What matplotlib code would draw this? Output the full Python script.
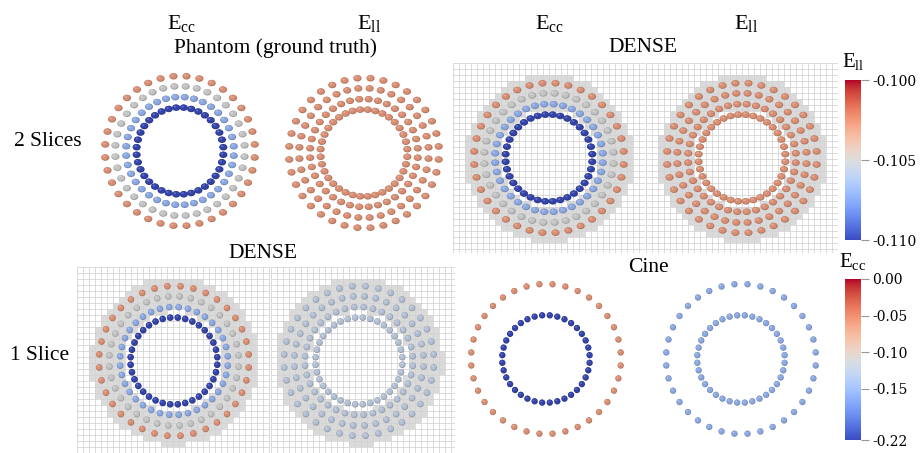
import numpy as np
import matplotlib
import matplotlib.pyplot as plt
from matplotlib.colors import Normalize
from matplotlib.patches import Ellipse
from matplotlib import cm

plt.rcParams['mathtext.fontset'] = 'custom'
plt.rcParams['mathtext.rm'] = 'Liberation Serif'
plt.rcParams['mathtext.it'] = 'Liberation Serif:italic'

W, H = 921, 453
CELL = 6.0  # pixels per DENSE voxel

# myocardial points: 36 angular positions on 4 radial layers (voxel units)
n_points = 36
ring_radius = [7.25, 9.0, 10.8, 12.5]
cine_radius = [7.3, 12.5]
mask_radius = (8.3, 14.0)

# strain per layer, endo -> epi
ecc_phantom = [-0.22, -0.154, -0.11, -0.06]
ell_phantom = [-0.1027, -0.1027, -0.1027, -0.1027]
ecc_dense2 = [-0.22, -0.154, -0.11, -0.06]
ell_dense2 = [-0.1027, -0.1027, -0.1027, -0.1027]
ecc_dense1 = [-0.22, -0.154, -0.11, -0.06]
ell_dense1 = [-0.1057, -0.1057, -0.1057, -0.1057]
ecc_cine = [-0.22, -0.06]
ell_cine = [-0.107, -0.107]

ecc_range = (-0.22, 0.00)
ell_range = (-0.110, -0.100)
ecc_ticks = [0.00, -0.05, -0.10, -0.15, -0.22]
ell_ticks = [-0.100, -0.105, -0.110]

cmap = matplotlib.colormaps['coolwarm']
ecc_norm = Normalize(*ecc_range)
ell_norm = Normalize(*ell_range)

fig = plt.figure(figsize=(W / 100, H / 100), dpi=100)
fig.patch.set_facecolor('white')


def panel(box, center, zorder=1):
    x0, x1, y0, y1 = box
    cx, cy = center
    ax = fig.add_axes([x0 / W, 1 - y1 / H, (x1 - x0) / W, (y1 - y0) / H])
    ax.set_xlim((x0 - cx) / CELL, (x1 - cx) / CELL)
    ax.set_ylim((cy - y1) / CELL, (cy - y0) / CELL)
    ax.set_facecolor('none')
    ax.set_axis_off()
    ax.set_zorder(zorder)
    return ax


def dense_background(ax):
    xa, xb = ax.get_xlim()
    ya, yb = ax.get_ylim()
    xe = np.arange(xa, xb + 1e-6, 1.0)
    ye = np.arange(yb, ya - 1e-6, -1.0)[::-1]
    xc = 0.5 * (xe[:-1] + xe[1:])
    yc = 0.5 * (ye[:-1] + ye[1:])
    X, Y = np.meshgrid(xc, yc)
    r = np.hypot(X, Y)
    inside = (r >= mask_radius[0]) & (r <= mask_radius[1])
    ax.add_patch(plt.Rectangle((xa, ya), xb - xa, yb - ya, color='white', zorder=0))
    ax.pcolormesh(xe, ye, np.ma.masked_where(~inside, np.ones_like(r)),
                  cmap=matplotlib.colors.ListedColormap(['#dadada']), zorder=1)
    for x in xe:
        ax.plot([x, x], [ya, yb], color='#d2d2d2', lw=0.55, zorder=2)
    for y in ye:
        ax.plot([xa, xb], [y, y], color='#d2d2d2', lw=0.55, zorder=2)


def sphere(ax, x, y, w, h, rgb):
    rgb = np.asarray(rgb[:3])
    ax.add_patch(Ellipse((x, y), w, h, color=rgb * 0.72, lw=0, zorder=3))
    ax.add_patch(Ellipse((x - 0.05 * w, y + 0.06 * h), w * 0.84, h * 0.84,
                         color=rgb * 0.88, lw=0, zorder=4))
    ax.add_patch(Ellipse((x - 0.15 * w, y + 0.17 * h), w * 0.3, h * 0.3,
                         color=rgb * 0.7 + 0.22, lw=0, zorder=5))


def rings(ax, radii, values, norm, w, h):
    theta = np.linspace(0, 2 * np.pi, n_points, endpoint=False) + np.pi / 36
    for r, v in zip(radii, values):
        rgb = cmap(norm(v))
        for t in theta:
            sphere(ax, r * np.cos(t), r * np.sin(t), w, h, rgb)


# top row: 2 slices
ax = panel((84, 276, 55, 247), (180, 151))
rings(ax, ring_radius, ecc_phantom, ecc_norm, 1.35, 1.08)
ax = panel((268, 460, 57, 249), (364, 153))
rings(ax, ring_radius, ell_phantom, ell_norm, 1.35, 1.08)

ax = panel((453, 645, 63, 253), (549, 158))
dense_background(ax)
rings(ax, ring_radius, ecc_dense2, ecc_norm, 1.35, 1.08)
ax = panel((646, 838, 63, 253), (742, 158))
dense_background(ax)
rings(ax, ring_radius, ell_dense2, ell_norm, 1.35, 1.08)

# bottom row: 1 slice
ax = panel((77, 270, 267, 459), (174, 361))
dense_background(ax)
rings(ax, ring_radius, ecc_dense1, ecc_norm, 1.1, 1.1)
ax = panel((271, 455, 267, 459), (359, 361))
dense_background(ax)
rings(ax, ring_radius, ell_dense1, ell_norm, 1.1, 1.1)

ax = panel((455, 640, 262, 453), (546, 359))
rings(ax, cine_radius, ecc_cine, ecc_norm, 1.05, 1.05)
ax = panel((645, 838, 262, 453), (741, 359))
rings(ax, cine_radius, ell_cine, ell_norm, 1.05, 1.05)

# labels
serif = dict(family='Liberation Serif', fontsize=15.5, ha='center', va='center', color='black')


def label(x, y, s, **kw):
    opts = dict(serif)
    opts.update(kw)
    fig.text(x / W, 1 - y / H, s, **opts)


label(182, 23, r'$\mathrm{E_{cc}}$', fontsize=16)
label(369, 23, r'$\mathrm{E_{ll}}$', fontsize=16)
label(550, 23, r'$\mathrm{E_{cc}}$', fontsize=16)
label(746, 23, r'$\mathrm{E_{ll}}$', fontsize=16)
label(275, 48, 'Phantom (ground truth)')
label(643, 48, 'DENSE')
label(263, 254, 'DENSE')
label(648, 267, 'Cine')
label(48, 142, '2 Slices')
label(40, 356, '1 Slice')

# colour bars
for (y0, y1), norm, ticks, fmt, title, ty in [
        ((80, 240), ell_norm, ell_ticks, '%.3f', r'$\mathrm{E_{ll}}$', 62),
        ((279, 440), ecc_norm, ecc_ticks, '%.2f', r'$\mathrm{E_{cc}}$', 261)]:
    cax = fig.add_axes([845 / W, 1 - y1 / H, 16 / W, (y1 - y0) / H])
    cb = fig.colorbar(cm.ScalarMappable(norm=norm, cmap=cmap), cax=cax)
    cb.outline.set_visible(False)
    cb.set_ticks(ticks)
    cb.set_ticklabels([fmt % t for t in ticks])
    cax.tick_params(length=6, width=0.8, color='#999999', pad=2, labelsize=10)
    for t in cax.get_yticklabels():
        t.set_family('DejaVu Serif')
    label(853, ty, title, fontsize=15)

fig.savefig('out.png', dpi=100, facecolor='white')
